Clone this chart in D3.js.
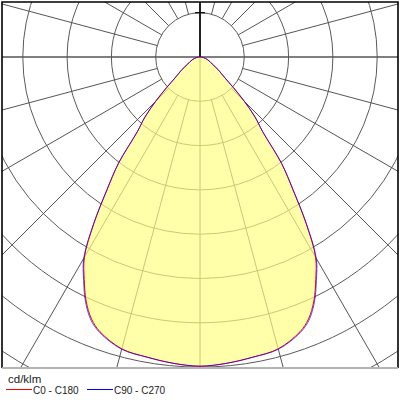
<!DOCTYPE html>
<html>
<head>
<meta charset="utf-8">
<script src="https://cdn.jsdelivr.net/npm/d3@7"></script>
<style>
  body { margin: 0; background: #fff; }
  svg { display: block; }
</style>
</head>
<body>
<svg id="chart" width="400" height="400"></svg>
<script>
// gamma angles from nadir (deg) and intensities in cd/klm
const gammas = [0, 5, 10, 15, 20, 22.5, 25, 27.5, 30, 32.5, 35, 37.5, 40, 42.5, 45, 47.5, 50, 52.5, 55, 60, 65, 70, 75, 80, 85, 90];
const c0_c180 = [349, 347, 344, 341, 330, 320, 304, 283, 261, 223, 183, 151, 110, 92, 71, 51, 37, 30, 25, 16, 12.4, 9.3, 6.5, 4.3, 2.1, 0];
const c90_c270 = [349, 347, 344, 341.5, 331, 321.5, 305.5, 284.5, 262.5, 224, 183.5, 151, 110, 92, 71, 51, 37, 30, 25, 16, 12.4, 9.3, 6.5, 4.3, 2.1, 0];

const rings = [50, 100, 150, 200, 250, 300, 350, 400];
const spokes = d3.range(0, 360, 15);
const legendItems = [
    {name: 'C0 - C180', color: '#ff0000'},
    {name: 'C90 - C270', color: '#0000ff'}
];

const svg = d3.select('#chart');
const cx = 200, cy = 57;
const frame = {x: 2, y: 2, w: 396, h: 366};

const r = d3.scaleLinear()
    .domain([0, 400])
    .range([0, 354.4]);

svg.append('clipPath')
    .attr('id', 'plot-clip')
    .append('rect')
    .attr('x', frame.x)
    .attr('y', frame.y)
    .attr('width', frame.w)
    .attr('height', frame.h);

const plot = svg.append('g')
    .attr('clip-path', 'url(#plot-clip)');

const g = plot.append('g')
    .attr('transform', 'translate(' + cx + ',' + cy + ')');

// grid circles
g.selectAll('.ring')
    .data(rings)
    .enter()
    .append('circle')
    .attr('class', 'ring')
    .attr('r', d => r(d))
    .style('fill', 'none')
    .style('stroke', '#5a5a5a')
    .style('stroke-width', 1);

// spokes, starting at the first ring except the main axes
g.selectAll('.spoke')
    .data(spokes)
    .enter()
    .append('line')
    .attr('class', 'spoke')
    .attr('x1', d => (d % 90 === 0 ? 0 : r(rings[0])) * Math.sin(d * Math.PI / 180))
    .attr('y1', d => (d % 90 === 0 ? 0 : r(rings[0])) * Math.cos(d * Math.PI / 180))
    .attr('x2', d => 600 * Math.sin(d * Math.PI / 180))
    .attr('y2', d => 600 * Math.cos(d * Math.PI / 180))
    .style('stroke', '#555')
    .style('stroke-width', d => d === 90 || d === 270 ? 1.6 : 1);

function polarPoints (values) {
    // left half (C180 / C270) from 90 deg down to nadir, then right half back up
    const left = gammas.map((gm, i) => [Math.PI + gm * Math.PI / 180, r(values[i])]).reverse();
    const right = gammas.map((gm, i) => [Math.PI - gm * Math.PI / 180, r(values[i])]);
    return left.concat(right.slice(1));
}

const radial = d3.lineRadial()
    .angle(d => d[0])
    .radius(d => d[1])
    .curve(d3.curveCatmullRomClosed);

g.append('path')
    .attr('d', radial(polarPoints(c0_c180)))
    .style('fill', '#ffff80')
    .style('fill-opacity', 0.68)
    .style('stroke', 'none');

// upper vertical axis
g.append('line')
    .attr('x1', 0).attr('y1', 0)
    .attr('x2', 0).attr('y2', -cy)
    .style('stroke', '#000')
    .style('stroke-width', 1.6);

g.append('line')
    .attr('x1', -5).attr('y1', -r(rings[0]))
    .attr('x2', 5).attr('y2', -r(rings[0]))
    .style('stroke', '#000')
    .style('stroke-width', 1.2);

g.append('path')
    .attr('d', radial(polarPoints(c0_c180)))
    .style('fill', 'none')
    .style('stroke', legendItems[0].color)
    .style('stroke-width', 1);

g.append('path')
    .attr('d', radial(polarPoints(c90_c270)))
    .style('fill', 'none')
    .style('stroke', legendItems[1].color)
    .style('stroke-opacity', 0.65)
    .style('stroke-width', 1);

// frame
const border = svg.append('g');
border.append('path')
    .attr('d', 'M' + frame.x + ',' + (frame.y + frame.h) + 'V' + frame.y + 'H' + (frame.x + frame.w) + 'V' + (frame.y + frame.h))
    .style('fill', 'none')
    .style('stroke', '#000')
    .style('stroke-width', 1.6);
border.append('line')
    .attr('x1', frame.x).attr('y1', frame.y + frame.h)
    .attr('x2', frame.x + frame.w).attr('y2', frame.y + frame.h)
    .style('stroke', '#b4b4b4')
    .style('stroke-width', 2);

// unit and legend
svg.append('text')
    .attr('x', 8)
    .attr('y', 383)
    .text('cd/klm')
    .style('font-family', 'Liberation Sans, Arial, sans-serif')
    .style('font-size', '11.5px')
    .style('fill', '#222');

const legend = svg.selectAll('.legend')
    .data(legendItems)
    .enter()
    .append('g')
    .attr('class', 'legend')
    .attr('transform', (d, i) => 'translate(' + (6 + i * 81) + ',389.5)');

legend.append('line')
    .attr('x1', 0).attr('x2', 26)
    .style('stroke', d => d.color)
    .style('stroke-width', 1);

legend.append('text')
    .attr('x', 27)
    .attr('y', 4)
    .text(d => d.name)
    .style('font-family', 'Liberation Sans, Arial, sans-serif')
    .style('font-size', '10px')
    .style('fill', '#222');
</script>
</body>
</html>
